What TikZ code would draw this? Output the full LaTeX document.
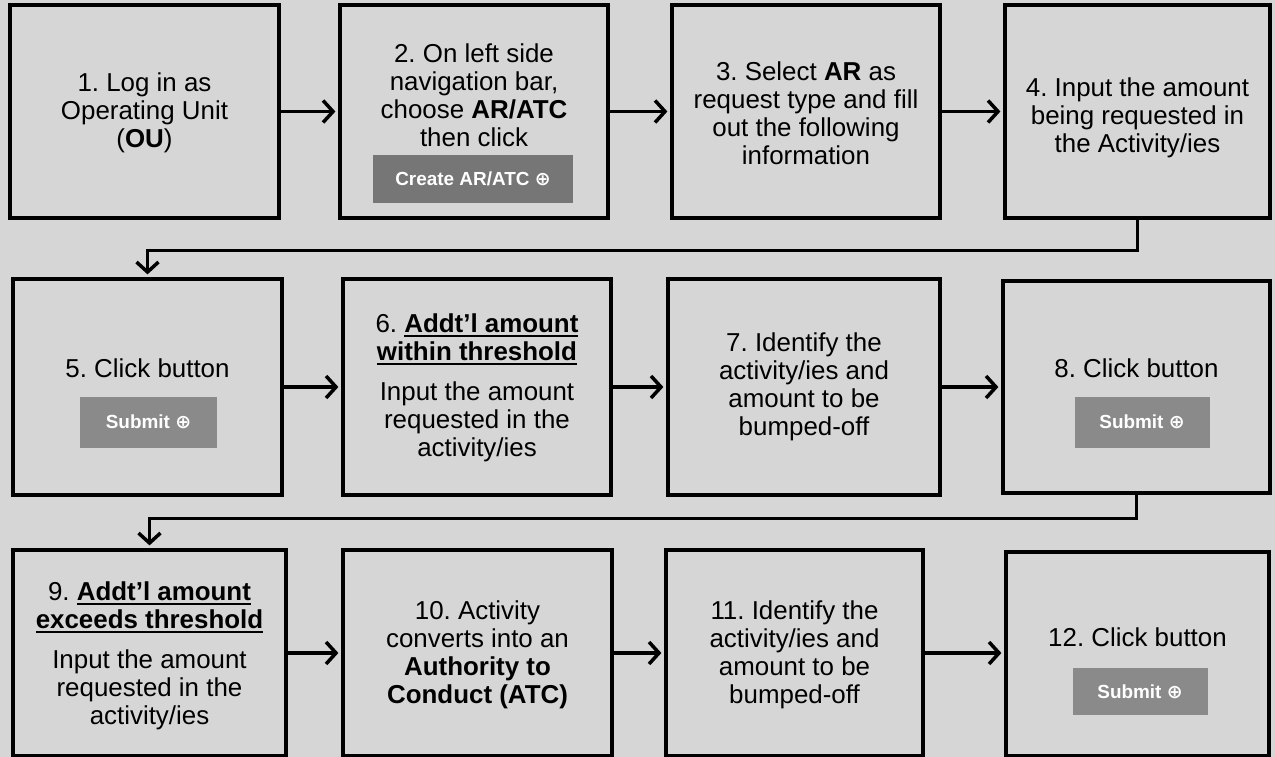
\documentclass[tikz,border=0pt]{standalone}
\usepackage{fontspec}
\setmainfont{Liberation Sans}
\newfontfamily\iconfont{DejaVu Sans}
\usetikzlibrary{arrows.meta}
\frenchspacing
\definecolor{paper}{RGB}{214,214,214}
\definecolor{btndark}{RGB}{118,118,118}
\definecolor{btngray}{RGB}{138,138,138}
% bold text with a heavy underline
\newcommand\ulbold[1]{\setbox0\hbox{\textbf{#1}}\rlap{\rule[-4bp]{\wd0}{2bp}}\box0}
\tikzset{
  stepbox/.style={draw=black, line width=3.2bp, rectangle, inner sep=0pt},
  steptext/.style={align=center, font=\fontsize{26}{28}\selectfont, inner sep=0pt},
  btn/.style={fill=btngray, text=white, font=\fontsize{19}{21}\selectfont\bfseries, inner sep=0pt},
  flowarrow/.style={draw=black, line width=3.5bp, -{Straight Barb[length=10bp,width=22bp]}, shorten >=3bp},
}
\begin{document}
\begin{tikzpicture}[x=1bp,y=-1bp]
\useasboundingbox (0,0) rectangle (1275,757);
\fill[paper] (0,0) rectangle (1275,757);

% ---- row 1 ----
\node[stepbox, minimum width=269bp, minimum height=213bp] (b1) at (144.5,111.5) {};
\node[stepbox, minimum width=268bp, minimum height=213bp] (b2) at (474,111.5) {};
\node[stepbox, minimum width=268bp, minimum height=213bp] (b3) at (806,111.5) {};
\node[stepbox, minimum width=265bp, minimum height=213bp] (b4) at (1137.5,111.5) {};

\node[steptext] (t1) at (144.5,113) {1. Log in as\\Operating Unit\\(\textbf{OU})};
\node[steptext] (t2) at (474,95) {2. On left side\\navigation bar,\\choose \textbf{AR/ATC}\\then click};
\node[btn, fill=btndark, minimum width=200bp, minimum height=48bp] (k2) at (473,179) {Create AR/ATC {\iconfont ⊕}};
\node[steptext] (t3) at (806,113) {3. Select \textbf{AR} as\\request type and fill\\out the following\\information};
\node[steptext] (t4) at (1137.5,118) {4. Input the amount\\being requested in\\the Activity/ies};

% ---- row 2 ----
\node[stepbox, minimum width=269bp, minimum height=216bp] (b5) at (147.5,387) {};
\node[stepbox, minimum width=268bp, minimum height=216bp] (b6) at (477,387) {};
\node[stepbox, minimum width=272bp, minimum height=216bp] (b7) at (804,387) {};
\node[stepbox, minimum width=267bp, minimum height=212bp] (b8) at (1136.5,387) {};

\node[steptext] (t5) at (147.5,368) {5. Click button};
\node[btn, minimum width=137bp, minimum height=51bp] (k5) at (148.5,422) {Submit {\iconfont ⊕}};
\node[steptext] (t6) at (477,388) {6. \ulbold{Addt'l amount}\\\ulbold{within threshold}\\[12bp]Input the amount\\requested in the\\activity/ies};
\node[steptext] (t7) at (804,387) {7. Identify the\\activity/ies and\\amount to be\\bumped-off};
\node[steptext] (t8) at (1136.5,368) {8. Click button};
\node[btn, minimum width=135bp, minimum height=51bp] (k8) at (1142,422) {Submit {\iconfont ⊕}};

% ---- row 3 ----
\node[stepbox, minimum width=273bp, minimum height=206bp] (b9) at (149.5,653) {};
\node[stepbox, minimum width=269bp, minimum height=206bp] (b10) at (477.5,653) {};
\node[stepbox, minimum width=257bp, minimum height=206bp] (b11) at (794.5,653) {};
\node[stepbox, minimum width=263bp, minimum height=204bp] (b12) at (1137.5,654) {};

\node[steptext] (t9) at (149.5,656) {9. \ulbold{Addt'l amount}\\\ulbold{exceeds threshold}\\[12bp]Input the amount\\requested in the\\activity/ies};
\node[steptext] (t10) at (477.5,655) {10. Activity\\converts into an\\\textbf{Authority to}\\\textbf{Conduct (ATC)}};
\node[steptext] (t11) at (794.5,655) {11. Identify the\\activity/ies and\\amount to be\\bumped-off};
\node[steptext] (t12) at (1137.5,637) {12. Click button};
\node[btn, minimum width=135bp, minimum height=47bp] (k12) at (1140,691.5) {Submit {\iconfont ⊕}};

% ---- connectors ----
\draw[flowarrow] (b1) -- (b2);
\draw[flowarrow] (b2) -- (b3);
\draw[flowarrow] (b3) -- (b4);
\draw[flowarrow] (b4.south) -- ++(0,31) -| (b5.north);
\draw[flowarrow] (b5) -- (b6);
\draw[flowarrow] (b6) -- (b7);
\draw[flowarrow] (b7) -- (b8);
\draw[flowarrow] (b8.south) -- ++(0,24) -| (b9.north);
\draw[flowarrow] (b9) -- (b10);
\draw[flowarrow] (b10) -- (b11);
\draw[flowarrow] (b11.east) -- (b11.east -| b12.west);
\end{tikzpicture}
\end{document}
